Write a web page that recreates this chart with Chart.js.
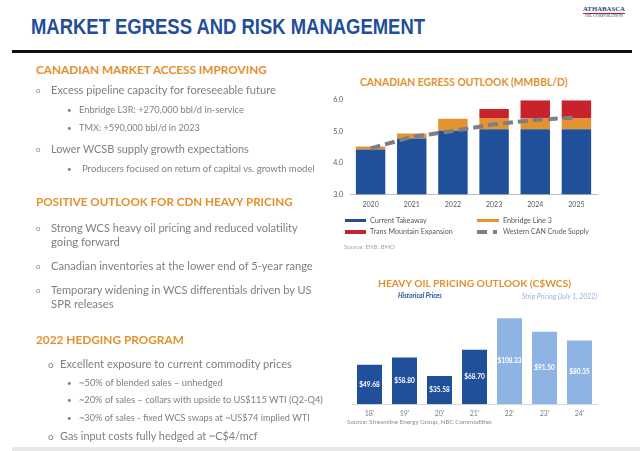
<!DOCTYPE html>
<html><head><meta charset="utf-8">
<script src="https://cdn.jsdelivr.net/npm/chart.js@4.4.0/dist/chart.umd.min.js"></script>
<style>
html,body{margin:0;padding:0;background:#fff;}
body{width:640px;height:451px;position:relative;overflow:hidden;font-family:Lato,'Open Sans',sans-serif;}
.t{position:absolute;white-space:nowrap;line-height:1;}
.h{color:#E2912E;font-weight:bold;}
.b{color:#808080;}
canvas{position:absolute;}
</style></head><body>
<canvas id="egress" width="290" height="122" style="left:320px;top:89px;width:290px;height:122px"></canvas>
<canvas id="pricing" width="270" height="122" style="left:340px;top:300px;width:270px;height:122px"></canvas>
<script>
// ---- Canadian egress outlook (MMBBL/D) ----
const egressYears = ['2020', '2021', '2022', '2023', '2024', '2025'];
const currentTakeaway = [4.43, 4.78, 5.03, 5.07, 5.07, 5.07];
const enbridgeLine3 = [0.09, 0.16, 0.38, 0.35, 0.35, 0.35];
const transMountainExpansion = [0, 0, 0, 0.30, 0.58, 0.58];
const westernCanCrudeSupply = [4.46, 4.83, 5.02, 5.23, 5.37, 5.45];
const egressTicks = [3, 4, 5, 6];

// ---- Heavy oil pricing outlook (C$WCS) ----
const pricingYears = ["18'", "19'", "20'", "21'", "22'", "23'", "24'"];
const wcsPrices = [49.68, 58.80, 35.58, 68.70, 108.33, 91.50, 80.35];
const pricingBasis = ['Historical', 'Historical', 'Historical', 'Historical', 'Strip', 'Strip', 'Strip'];

const BLUE = '#21509B', ORANGE = '#E3942F', RED = '#C8222C', GRAY = '#7F7F7F', LIGHT = '#8EB4E3';

function place(text, x, yc, w, fs, cls, style) {
  const d = document.createElement('div');
  d.className = 't ' + (cls || '');
  d.textContent = text;
  d.style.left = x + 'px';
  d.style.fontSize = fs + 'px';
  if (style) Object.assign(d.style, style);
  document.body.appendChild(d);
  let f = fs;
  if (w) {
    const w0 = d.getBoundingClientRect().width;
    f = fs * w / w0;
    d.style.fontSize = f + 'px';
  }
  d.style.top = (yc - f / 2) + 'px';
  return d;
}

// Title
const title = place('MARKET EGRESS AND RISK MANAGEMENT', 31, 27, 0, 22.5, '', {fontFamily: "'Liberation Sans', Arial, sans-serif", fontWeight: 'bold', color: '#1F4E9A', transformOrigin: 'left center'});
title.style.transform = 'scaleX(' + (394 / title.getBoundingClientRect().width) + ')';
const rule = document.createElement('div');
Object.assign(rule.style, {position: 'absolute', left: '12px', width: '620px', top: '50px', height: '3px', background: '#111'});
document.body.appendChild(rule);
// logo
place('ATHABASCA', 583, 9, 42, 7, '', {fontFamily: "'Liberation Serif', serif", fontWeight: 'bold', color: '#1F3F7A'});
const lr = document.createElement('div');
Object.assign(lr.style, {position: 'absolute', left: '583px', width: '42px', top: '13px', height: '1px', background: '#C8222C'});
document.body.appendChild(lr);
place('OIL CORPORATION', 585, 16.5, 38, 4, '', {fontFamily: "'Liberation Serif', serif", color: '#1F3F7A'});

// Left text
place('CANADIAN MARKET ACCESS IMPROVING', 36, 70, 231, 13, 'h');
place('o', 36, 90, 0, 8, 'b');
place('Excess pipeline capacity for foreseeable future', 51, 90, 225, 11, 'b');
place('•', 67, 110, 0, 8, 'b');
place('Enbridge L3R: +270,000 bbl/d in-service', 79, 110, 165, 9, 'b');
place('•', 67, 127.5, 0, 8, 'b');
place('TMX: +590,000 bbl/d in 2023', 79, 127.5, 121, 9, 'b');
place('o', 36, 149, 0, 8, 'b');
place('Lower WCSB supply growth expectations', 51, 149, 198, 11, 'b');
place('•', 67, 169, 0, 8, 'b');
place('Producers focused on return of capital vs. growth model', 82, 169, 233, 9, 'b');
place('POSITIVE OUTLOOK FOR CDN HEAVY PRICING', 36, 202, 257, 13, 'h');
place('o', 36, 228, 0, 8, 'b');
place('Strong WCS heavy oil pricing and reduced volatility', 51, 228, 247, 11, 'b');
place('going forward', 51, 242, 0, 11.3, 'b');
place('o', 36, 266, 0, 8, 'b');
place('Canadian inventories at the lower end of 5-year range', 51, 266, 262, 11, 'b');
place('o', 36, 290, 0, 8, 'b');
place('Temporary widening in WCS differentials driven by US', 51, 290, 261, 11, 'b');
place('SPR releases', 51, 304, 0, 11.3, 'b');
place('2022 HEDGING PROGRAM', 36, 340, 148, 13, 'h');
place('o', 48, 364, 0, 10, 'b');
place('Excellent exposure to current commodity prices', 60, 364, 232, 11, 'b');
place('•', 67, 383, 0, 8, 'b');
place('~50% of blended sales – unhedged', 79, 383, 144, 9, 'b');
place('•', 67, 400, 0, 8, 'b');
place('~20% of sales – collars with upside to US$115 WTI (Q2-Q4)', 79, 400, 244, 9, 'b');
place('•', 67, 417.5, 0, 8, 'b');
place('~30% of sales - fixed WCS swaps at ~US$74 implied WTI', 79, 417.5, 231, 9, 'b');
place('o', 48, 436, 0, 10, 'b');
place('Gas input costs fully hedged at ~C$4/mcf', 60, 436, 198, 11, 'b');
const band = document.createElement('div');
Object.assign(band.style, {position: 'absolute', left: '12px', right: '0px', top: '447px', height: '4px', background: '#E7E7E7'});
document.body.appendChild(band);

// Chart 1 title, legend, source
place('CANADIAN EGRESS OUTLOOK (MMBBL/D)', 360, 82, 208, 11.5, 'h');
function swatch(x, yc, w, h, color) {
  const s = document.createElement('div');
  Object.assign(s.style, {position: 'absolute', left: x + 'px', top: (yc - h / 2) + 'px', width: w + 'px', height: h + 'px', background: color});
  document.body.appendChild(s);
}
swatch(345, 220.7, 21, 3.5, BLUE);
place('Current Takeaway', 370, 220.7, 57, 7.5, '', {color: '#595959'});
swatch(345, 232, 21, 3.5, RED);
place('Trans Mountain Expansion', 370, 232, 83, 7.5, '', {color: '#595959'});
swatch(477, 220.7, 22, 3.5, ORANGE);
place('Enbridge Line 3', 503, 220.7, 49, 7.5, '', {color: '#595959'});
swatch(477, 232, 10, 3.5, GRAY);
swatch(493, 232, 3.5, 3.5, GRAY);
place('Western CAN Crude Supply', 503, 232, 86, 7.5, '', {color: '#595959'});
place('Source: ENB, BMO', 344, 246.7, 51, 6.5, '', {color: '#A6A6A6'});

// Chart 2 title, captions, source
place('HEAVY OIL PRICING OUTLOOK (C$WCS)', 378, 283.5, 193, 11.5, 'h');
place('Historical Prices', 398, 296.7, 44, 6.5, '', {color: BLUE, fontStyle: 'italic', fontWeight: 'bold'});
place('Strip Pricing  (July 1, 2022)', 522, 296.7, 75, 6.5, '', {color: LIGHT, fontStyle: 'italic'});
place('Source: Streamline Energy Group, NBC Commodities', 347, 421.7, 145, 7, '', {color: '#8C8C8C'});

Chart.defaults.font.family = 'Lato';
Chart.defaults.animation = false;

new Chart(document.getElementById('egress'), {
  type: 'bar',
  data: {
    labels: egressYears,
    datasets: [
      {type: 'line', label: 'Western CAN Crude Supply', data: westernCanCrudeSupply, borderColor: GRAY, borderWidth: 4, borderDash: [10, 5], pointRadius: 0, fill: false, stack: 'supply', order: 0},
      {label: 'Current Takeaway', data: currentTakeaway, backgroundColor: BLUE, stack: 'egress', order: 1},
      {label: 'Enbridge Line 3', data: enbridgeLine3, backgroundColor: ORANGE, stack: 'egress', order: 1},
      {label: 'Trans Mountain Expansion', data: transMountainExpansion, backgroundColor: RED, stack: 'egress', order: 1}
    ]
  },
  options: {
    responsive: false, devicePixelRatio: 1,
    layout: {padding: {left: 0, right: 13, top: 4, bottom: 0}},
    datasets: {bar: {barPercentage: 0.715, categoryPercentage: 1}},
    plugins: {legend: {display: false}, tooltip: {enabled: false}},
    scales: {
      x: {stacked: true, grid: {display: false, drawTicks: false}, border: {display: true, color: '#BFBFBF'},
          ticks: {font: {size: 7}, color: '#595959', padding: 6}, afterFit: s => { s.height = 16.7; }},
      y: {stacked: true, min: 3, max: 6, grid: {display: false, drawTicks: false}, border: {display: false},
          ticks: {font: {size: 7}, color: '#595959', padding: 7, callback: v => Number(v).toFixed(1)},
          afterBuildTicks: s => { s.ticks = egressTicks.map(v => ({value: v})); },
          afterFit: s => { s.width = 30; }}
    }
  }
});

const barLabels = {
  id: 'barLabels',
  afterDatasetsDraw(chart) {
    const ctx = chart.ctx;
    const meta = chart.getDatasetMeta(0);
    ctx.save();
    ctx.fillStyle = '#FFFFFF';
    ctx.font = 'bold 6.5px Lato';
    ctx.textAlign = 'center';
    ctx.textBaseline = 'middle';
    meta.data.forEach((bar, i) => {
      ctx.fillText('$' + wcsPrices[i].toFixed(2), bar.x, (bar.y + bar.base) / 2);
    });
    ctx.restore();
  }
};

new Chart(document.getElementById('pricing'), {
  type: 'bar',
  data: {
    labels: pricingYears,
    datasets: [{label: 'WCS (C$/bbl)', data: wcsPrices, backgroundColor: pricingBasis.map(b => b === 'Historical' ? BLUE : LIGHT), barPercentage: 0.714, categoryPercentage: 1}]
  },
  options: {
    responsive: false, devicePixelRatio: 1,
    layout: {padding: {left: 12, right: 13, top: 9, bottom: 0}},
    plugins: {legend: {display: false}, tooltip: {enabled: false}},
    scales: {
      x: {grid: {display: false, drawTicks: false}, border: {display: true, color: '#D9D9D9'},
          ticks: {font: {size: 7}, color: '#7F7F7F', padding: 5}, afterFit: s => { s.height = 17.7; }},
      y: {display: false, min: 0, max: 120}
    }
  },
  plugins: [barLabels]
});
</script>
</body></html>
